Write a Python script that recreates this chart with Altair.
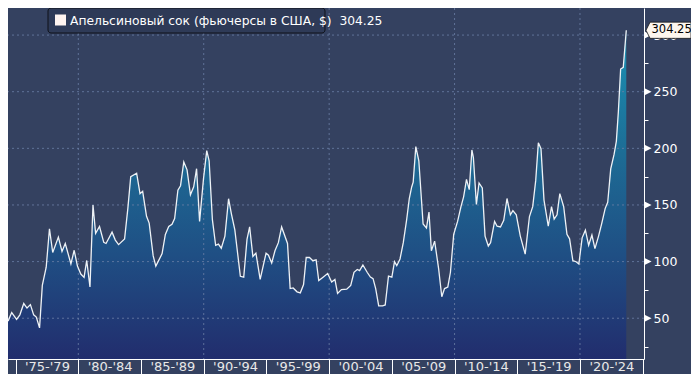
import altair as alt
import pandas as pd

# ---- data ----
years = [1973.76, 1973.98, 1974.16, 1974.42, 1974.69, 1975.08, 1975.34, 1975.65, 1975.91, 1976.18,
         1976.44, 1976.65, 1976.91, 1977.13, 1977.44, 1977.70, 1977.96, 1978.41, 1978.70, 1978.96,
         1979.41, 1979.67, 1979.93, 1980.20, 1980.46, 1980.67, 1980.93, 1981.17, 1981.38, 1981.69,
         1982.03, 1982.21, 1982.69, 1982.95, 1983.21, 1983.69, 1983.95, 1984.18, 1984.65, 1984.92,
         1985.13, 1985.44, 1985.65, 1985.97, 1986.18, 1986.68, 1986.94, 1987.21, 1987.47, 1987.68,
         1987.94, 1988.15, 1988.41, 1988.67, 1988.94, 1989.20, 1989.43, 1989.67, 1989.98, 1990.24,
         1990.43, 1990.69, 1990.95, 1991.17, 1991.40, 1991.69, 1991.98, 1992.21, 1992.48, 1992.92,
         1993.19, 1993.45, 1993.66, 1993.92, 1994.16, 1994.50, 1994.97, 1995.16, 1995.42, 1995.68,
         1995.95, 1996.21, 1996.68, 1996.89, 1997.13, 1997.44, 1997.70, 1997.96, 1998.17, 1998.43,
         1998.70, 1998.96, 1999.17, 1999.49, 1999.88, 2000.20, 2000.46, 2000.67, 2000.98, 2001.40,
         2001.72, 2001.98, 2002.24, 2002.43, 2002.69, 2003.03, 2003.29, 2003.50, 2003.71, 2003.95,
         2004.26, 2004.47, 2004.73, 2005.00, 2005.21, 2005.39, 2005.65, 2005.91, 2006.18, 2006.39,
         2006.58, 2006.70, 2006.91, 2007.15, 2007.49, 2007.76, 2007.96, 2008.15, 2008.41, 2008.73,
         2008.98, 2009.20, 2009.46, 2009.67, 2009.93, 2010.24, 2010.51, 2010.72, 2010.95, 2011.17,
         2011.38, 2011.50, 2011.74, 2011.95, 2012.21, 2012.43, 2012.69, 2012.87, 2013.19, 2013.39,
         2013.66, 2013.92, 2014.18, 2014.45, 2014.65, 2014.92, 2015.24, 2015.63, 2015.97, 2016.23,
         2016.47, 2016.68, 2016.89, 2017.13, 2017.47, 2017.73, 2017.94, 2018.17, 2018.39, 2018.70,
         2018.96, 2019.17, 2019.43, 2019.69, 2019.91, 2020.17, 2020.43, 2020.69, 2020.95, 2021.19,
         2021.48, 2021.74, 2022.01, 2022.21, 2022.45, 2022.72, 2022.90, 2023.06, 2023.24, 2023.45,
         2023.69]
values = [53, 53, 48, 48, 55, 49, 53, 63, 59, 62,
          53, 51, 41.5, 79, 95, 129, 108, 121.6, 109, 116,
          98, 110, 96, 89, 86, 101, 77.6, 150, 125, 131,
          117, 116, 126, 119, 115, 120, 147, 175, 178, 160,
          162, 140, 134, 105, 96, 107, 124, 131, 133, 138,
          163, 167, 188, 181, 159, 166, 182, 135.5, 173, 198,
          189, 137, 114.4, 115.5, 111.8, 122.5, 155.5, 142, 128, 87,
          86.3, 119.6, 130.6, 104.5, 107.5, 84.3, 107.5, 105.7, 98.8, 109.5,
          116.7, 130.6, 116, 76.2, 76.7, 73.3, 72.4, 79.7, 103.6, 103.6,
          100.8, 101.6, 83.2, 86, 89.5, 82, 84.3, 71.9, 75.3, 75.6,
          79, 90.6, 93, 92, 97, 90.6, 86.3, 84.9, 76.2, 60.9,
          60.9, 61.7, 87.2, 86.3, 99.9, 96.4, 102.3, 116.7, 137, 155.7,
          165.9, 170.2, 201.5, 189, 133.2, 129.7, 143.8, 109.5, 118.1, 93.6,
          69, 76.2, 77.6, 90.6, 124, 135.5, 148.5, 157.2, 172.6, 163.5,
          198.6, 191.9, 150.5, 169.4, 165, 122.5, 113.8, 116.7, 135.5, 131.2,
          130.6, 136.4, 155.7, 141.3, 145, 141.3, 122.5, 106.6, 139.8, 148.5,
          171.7, 204.9, 199.7, 154.3, 131.2, 148.5, 137.5, 141.3, 160, 148.5,
          124, 120.1, 100.8, 99.9, 97.9, 121, 127.7, 114.4, 123.4, 111.5,
          122.5, 134, 147, 152.3, 181.8, 194.8, 206.4, 232.5, 270, 271.5,
          304.25]

series_name = "Апельсиновый сок (фьючерсы в США, $)\u00a0 304.25"
last_label = "304.25"

grid_values = [50, 100, 150, 200, 250, 300]
grid_years = [1980, 1990, 2000, 2010, 2020]
band_starts = [1975, 1980, 1985, 1990, 1995, 2000, 2005, 2010, 2015, 2020, 2025]
y_ticks = [25, 50, 75, 100, 125, 150, 175, 200, 225, 250, 275, 300]
major_ticks = [50, 100, 150, 200, 250, 300]

# ---- layout / style ----
W, H = 636, 351
PAD_R, PAD_B = 47, 15
X_DOM = [1974.394, 2025.103]
Y_DOM = [14, 323.9]
BAND_PX = 5 * W / (X_DOM[1] - X_DOM[0])
BG = "#344160"
GRID = "#6b80a6"
AX_FONT = "DejaVu Sans"

df = pd.DataFrame({"year": years, "value": values})
last_df = pd.DataFrame({"value": [values[-1]], "label": [last_label]})
legend_df = pd.DataFrame({"name": [series_name]})
gy_df = pd.DataFrame({"gy": grid_values})
gx_df = pd.DataFrame({"gx": grid_years})
tri_df = pd.DataFrame({"ty": major_ticks})

xs = alt.Scale(domain=X_DOM, nice=False, zero=False)
ys = alt.Scale(domain=Y_DOM, nice=False, zero=False)

x_axis = alt.Axis(
    values=band_starts, title=None, grid=False,
    domainColor="white", domainWidth=1,
    tickColor="white", tickSize=PAD_B, tickWidth=1,
    labelOffset=BAND_PX / 2, labelPadding=-7.5, labelBaseline="middle",
    labelFlush=False, labelOverlap=False,
    labelColor="#e8e8e8", labelFont=AX_FONT, labelFontSize=13,
    labelExpr="datum.value >= 2025 ? '' : \"'\" + format(datum.value % 100, '02d') + \"-'\" + format((datum.value + 4) % 100, '02d')",
)
y_axis = alt.Axis(
    orient="right", values=y_ticks, title=None, grid=False,
    domainColor="white", domainWidth=1,
    tickColor="white", tickSize=4, tickWidth=1,
    labelPadding=5, labelColor="white", labelFont=AX_FONT, labelFontSize=12.5,
    labelExpr="datum.value % 50 == 0 ? '' + datum.value : ''",
    labelOverlap=False, labelFlush=False,
)


def X(field):
    return alt.X(field, type="quantitative", scale=xs, axis=x_axis)


def Y(field):
    return alt.Y(field, type="quantitative", scale=ys, axis=y_axis)


gradient = alt.Gradient(
    gradient="linear",
    stops=[
        alt.GradientStop(color="#1a92b5", offset=0),
        alt.GradientStop(color="#1d6d96", offset=0.35),
        alt.GradientStop(color="#1f4f84", offset=0.65),
        alt.GradientStop(color="#22286a", offset=1),
    ],
    x1=1, x2=1, y1=0, y2=1,
)

area = alt.Chart(df).mark_area(color=gradient, clip=True).encode(
    x=X("year"), y=Y("value"), y2=alt.value(H),
)

hgrid = alt.Chart(gy_df).mark_rule(stroke=GRID, strokeDash=[2, 3], strokeWidth=1, opacity=0.8).encode(
    y=Y("gy"),
)
vgrid = alt.Chart(gx_df).mark_rule(stroke=GRID, strokeDash=[2, 3], strokeWidth=1, opacity=0.8).encode(
    x=X("gx"),
)

line = alt.Chart(df).mark_line(strokeWidth=1.3, clip=True, color="#eef2f6").encode(
    x=X("year"), y=Y("value"),
)

tris = alt.Chart(tri_df).mark_point(
    shape="M-1,-1 L1,0 L-1,1 Z", filled=True, fill="white", size=56, opacity=1
).encode(
    x=alt.value(W + 3.8), y=Y("ty"),
)

callout = alt.Chart(last_df).mark_point(
    shape="M-1,0 L-0.82,-0.36 L1,-0.36 L1,0.36 L-0.82,0.36 Z",
    filled=True, fill="#fdf6ee", stroke="#1a1a1a", strokeWidth=0.8, size=2025, opacity=1,
).encode(
    x=alt.value(W + 24.5), y=Y("value"),
)
callout_text = alt.Chart(last_df).mark_text(
    align="left", baseline="middle", font=AX_FONT, fontSize=11.5, color="black"
).encode(
    x=alt.value(W + 7.5), y=Y("value"), text="label:N",
)

# legend box (drawn as marks)
leg_box = alt.Chart(legend_df).mark_rect(
    fill="#2e3a57", stroke="#0e1118", strokeWidth=1, cornerRadius=3
).encode(
    x=alt.value(40), x2=alt.value(317), y=alt.value(0), y2=alt.value(25),
)
leg_sym = alt.Chart(legend_df).mark_rect(fill="#fff4f0").encode(
    x=alt.value(47), x2=alt.value(58), y=alt.value(6.5), y2=alt.value(17.5),
)
leg_text = alt.Chart(legend_df).mark_text(
    align="left", baseline="middle", font="DejaVu Sans", fontSize=12.3, color="white"
).encode(
    x=alt.value(62), y=alt.value(12.5), text="name:N",
)

chart = alt.layer(area, hgrid, vgrid, line, tris, callout, callout_text,
                  leg_box, leg_sym, leg_text).properties(
    width=W, height=H,
    background=BG,
    padding={"left": 0, "top": 0, "right": PAD_R, "bottom": PAD_B},
    autosize=alt.AutoSizeParams(type="none"),
).configure_view(
    stroke=None, fill=BG,
)

chart.save("out.html", embed_options={"renderer": "svg", "actions": False})
